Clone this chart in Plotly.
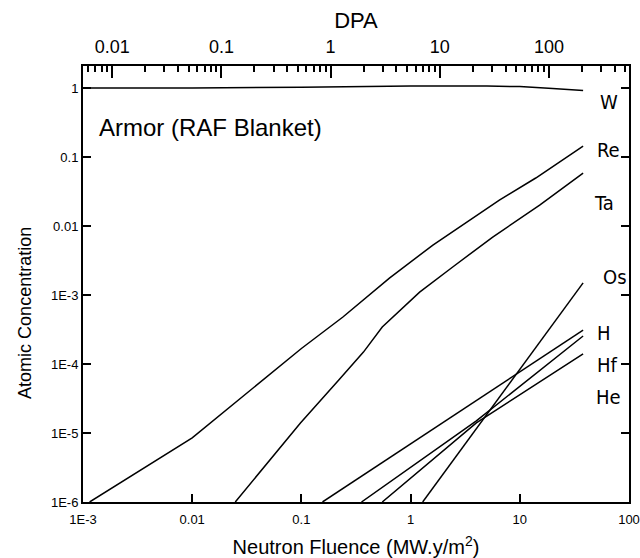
import math
import plotly.graph_objects as go

# ---------------- data ----------------
W_fluence = [1e-3, 0.01, 0.1, 1, 5, 10, 20, 38]
W_conc = [1.0, 1.0, 1.03, 1.07, 1.07, 1.05, 0.99, 0.92]

Re_fluence = [1.15e-3, 0.01, 0.1, 0.24, 0.64, 1.6, 6.5, 14, 38]
Re_conc = [1e-6, 8.5e-6, 1.68e-4, 4.8e-4, 1.76e-3, 5.3e-3, 0.0238, 0.0497, 0.144]

Ta_fluence = [0.0248, 0.098, 0.22, 0.37, 0.55, 1.21, 2.43, 5.65, 15.2, 38]
Ta_conc = [1e-6, 1.4e-5, 5.86e-5, 1.49e-4, 3.44e-4, 1.1e-3, 2.55e-3, 6.93e-3, 0.0201, 0.0586]

Os_fluence = [1.29, 38]
Os_conc = [1e-6, 1.5e-3]

H_fluence = [0.156, 38]
H_conc = [1e-6, 3.1e-4]

Hf_fluence = [0.355, 4.0, 38]
Hf_conc = [1e-6, 1.5e-5, 2.55e-4]

He_fluence = [0.55, 4.0, 38]
He_conc = [1e-6, 1.4e-5, 1.4e-4]

series = [
    ("W", W_fluence, W_conc),
    ("Re", Re_fluence, Re_conc),
    ("Ta", Ta_fluence, Ta_conc),
    ("Os", Os_fluence, Os_conc),
    ("H", H_fluence, H_conc),
    ("Hf", Hf_fluence, Hf_conc),
    ("He", He_fluence, He_conc),
]

x_tickvals = [1e-3, 0.01, 0.1, 1, 10, 100]
x_ticktext = ["1E-3", "0.01", "0.1", "1", "10", "100"]
y_tickvals = [1e-6, 1e-5, 1e-4, 1e-3, 0.01, 0.1, 1]
y_ticktext = ["1E-6", "1E-5", "1E-4", "1E-3", "0.01", "0.1", "1"]
dpa_tickvals = [0.01, 0.1, 1, 10, 100]
dpa_ticktext = ["0.01", "0.1", "1", "10", "100"]
dpa_per_fluence = 5.4  # DPA per MW.y/m2

# ---------------- figure ----------------
FONT = "Liberation Sans, Arial, sans-serif"
NARROW = "Liberation Sans Narrow, DejaVu Sans Condensed, Arial Narrow, Liberation Sans, sans-serif"

fig = go.Figure()
for name, fx, cy in series:
    fig.add_trace(go.Scatter(x=fx, y=cy, mode="lines", name=name,
                             line=dict(color="black", width=1.5),
                             showlegend=False))

x_range = [-3, 2]
dpa_range = [r + math.log10(dpa_per_fluence) for r in x_range]
dpa_minor = [m * 10 ** e for e in range(-3, 3) for m in range(2, 10)]

fig.update_layout(
    width=640, height=558,
    margin=dict(l=83, r=11, t=66, b=56),
    paper_bgcolor="white", plot_bgcolor="white",
    font=dict(family=FONT, color="black"),
    xaxis=dict(
        type="log", range=x_range, tickmode="array",
        tickvals=x_tickvals, ticktext=x_ticktext,
        ticks="inside", ticklen=8, tickwidth=1.5, tickcolor="black",
        showline=True, linecolor="black", linewidth=2, mirror=False,
        showgrid=False, zeroline=False, automargin=False,
        tickfont=dict(size=13), ticklabelstandoff=4,
        title=dict(text="Neutron Fluence (MW.y/m<sup>2</sup>)",
                   font=dict(size=20), standoff=16),
    ),
    xaxis2=dict(
        type="log", range=dpa_range, overlaying="x", side="top", anchor="y",
        tickmode="array", tickvals=dpa_tickvals, ticktext=dpa_ticktext,
        ticks="inside", ticklen=12, tickwidth=1.5, tickcolor="black",
        minor=dict(tickmode="array", tickvals=dpa_minor, ticks="inside",
                   ticklen=6, tickwidth=1.5, tickcolor="black", showgrid=False),
        showline=True, linecolor="black", linewidth=2,
        showgrid=False, zeroline=False, automargin=False,
        tickfont=dict(size=18), ticklabelstandoff=4,
        title=dict(text="DPA", font=dict(size=22), standoff=2),
    ),
    yaxis=dict(
        type="log", range=[-6, 0.32], tickmode="array",
        tickvals=y_tickvals, ticktext=y_ticktext,
        ticks="inside", ticklen=8, tickwidth=1.5, tickcolor="black",
        showline=True, linecolor="black", linewidth=2, mirror="ticks",
        showgrid=False, zeroline=False, automargin=False,
        tickfont=dict(size=13), ticklabelstandoff=0,
    ),
)

# invisible helper trace so that the DPA axis is drawn
fig.add_trace(go.Scatter(x=[dpa_tickvals[0], dpa_tickvals[-1]], y=[1e-6, 1e-6],
                         xaxis="x2", yaxis="y", mode="markers",
                         marker=dict(opacity=0), hoverinfo="skip",
                         showlegend=False))

# y-axis title (placed a little below centre, as in the reference)
fig.add_annotation(text="Atomic Concentration", x=-0.106, y=0.434,
                   xref="paper", yref="paper", xanchor="center", yanchor="middle",
                   textangle=-90, showarrow=False,
                   font=dict(family=FONT, size=18, color="black"))

# curve labels at the right
labels = [
    ("W", 0.943, 0.917),
    ("Re", 0.937, 0.807),
    ("Ta", 0.932, 0.686),
    ("Os", 0.949, 0.516),
    ("H", 0.937, 0.388),
    ("Hf", 0.937, 0.314),
    ("He", 0.936, 0.241),
]
for txt, px, py in labels:
    fig.add_annotation(text=txt, x=px, y=py, xref="paper", yref="paper",
                       xanchor="left", yanchor="middle", showarrow=False,
                       font=dict(family=NARROW, size=20, color="black"))

fig.add_annotation(text="Armor (RAF Blanket)", x=0.026, y=0.858,
                   xref="paper", yref="paper", xanchor="left", yanchor="middle",
                   showarrow=False, font=dict(family=FONT, size=24, color="black"))

# remove the default 8px page margin so the figure fills the window exactly
fig.write_html("out.html",
               config={"displayModeBar": False},
               post_script="document.body.style.margin='0';document.body.style.overflow='hidden';")
